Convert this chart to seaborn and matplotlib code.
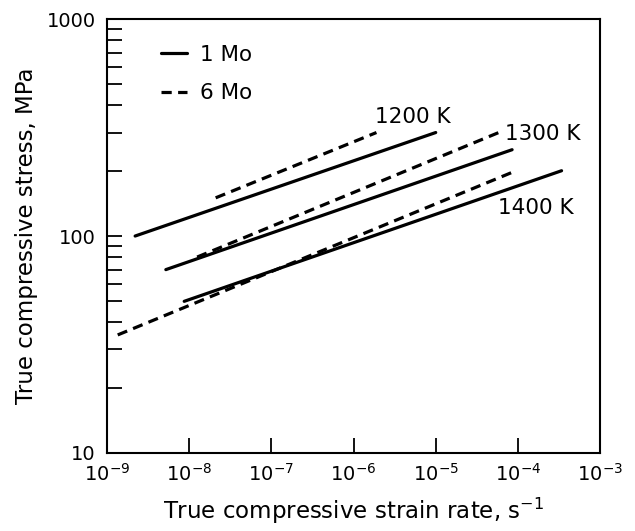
import matplotlib
matplotlib.use("Agg")
import matplotlib.pyplot as plt
import seaborn as sns
import pandas as pd
import numpy as np
from matplotlib.lines import Line2D
from matplotlib.ticker import LogLocator, NullFormatter, FixedLocator, FixedFormatter

# Data (line endpoints)
temps = ["1200 K", "1300 K", "1400 K"]
mo1_rate_start = [2.2e-9, 5.2e-9, 8.7e-9]
mo1_rate_end = [1.0e-5, 8.5e-5, 3.4e-4]
mo1_stress_start = [100, 70, 50]
mo1_stress_end = [300, 250, 200]
mo6_rate_start = [2.1e-8, 1.25e-8, 1.35e-9]
mo6_rate_end = [1.9e-6, 6.5e-5, 9.5e-5]
mo6_stress_start = [150, 80, 35]
mo6_stress_end = [300, 305, 200]

rows = []
for i, t in enumerate(temps):
    rows.append(dict(rate=mo1_rate_start[i], stress=mo1_stress_start[i], alloy="1 Mo", temp=t, uid=f"1-{t}"))
    rows.append(dict(rate=mo1_rate_end[i], stress=mo1_stress_end[i], alloy="1 Mo", temp=t, uid=f"1-{t}"))
    rows.append(dict(rate=mo6_rate_start[i], stress=mo6_stress_start[i], alloy="6 Mo", temp=t, uid=f"6-{t}"))
    rows.append(dict(rate=mo6_rate_end[i], stress=mo6_stress_end[i], alloy="6 Mo", temp=t, uid=f"6-{t}"))
df = pd.DataFrame(rows)

sns.set_theme(style="white")
plt.rcParams['font.family'] = ['DejaVu Sans']
plt.rcParams['mathtext.fontset'] = 'dejavusans'
plt.rcParams['text.color'] = 'black'
plt.rcParams['axes.labelcolor'] = 'black'
plt.rcParams['xtick.color'] = 'black'
plt.rcParams['ytick.color'] = 'black'

FS_TICK = 14
FS_LAB = 16.5
FS_TXT = 15.5
LW = 2.3
DASH = (3.2, 2.0)

fig = plt.figure(figsize=(6.35, 5.31), dpi=100)
ax = fig.add_axes([0.1685, 0.147, 0.7765, 0.817])

sns.lineplot(data=df, x="rate", y="stress", style="alloy", units="uid",
             estimator=None, color="black", linewidth=LW,
             dashes={"1 Mo": "", "6 Mo": DASH}, sort=False, legend=False, ax=ax)

ax.set_xscale("log")
ax.set_yscale("log")
ax.set_xlim(1e-9, 1e-3)
ax.set_ylim(10, 1000)

for s in ax.spines.values():
    s.set_color("black")
    s.set_linewidth(1.5)

xt = [1e-9, 1e-8, 1e-7, 1e-6, 1e-5, 1e-4, 1e-3]
xl = [r"$\mathregular{10^{-9}}$", r"$\mathregular{10^{-8}}$", r"$\mathregular{10^{-7}}$",
      r"$\mathregular{10^{-6}}$", r"$\mathregular{10^{-5}}$", r"$\mathregular{10^{-4}}$",
      r"$\mathregular{10^{-3}}$"]
ax.xaxis.set_major_locator(FixedLocator(xt))
ax.xaxis.set_major_formatter(FixedFormatter(xl))
ax.xaxis.set_minor_locator(FixedLocator([]))
ax.yaxis.set_major_locator(FixedLocator([10, 100, 1000]))
ax.yaxis.set_major_formatter(FixedFormatter(["10", "100", "1000"]))
ax.yaxis.set_minor_locator(LogLocator(base=10, subs=np.arange(2, 10)))
ax.yaxis.set_minor_formatter(NullFormatter())

ax.tick_params(axis="x", which="major", direction="in", length=11, width=1.3,
               labelsize=FS_TICK, pad=7, bottom=True, top=False, color="black", labelcolor="black")
ax.tick_params(axis="y", which="major", direction="in", length=11, width=1.3,
               labelsize=FS_TICK, pad=8, left=True, right=False, color="black", labelcolor="black")
ax.tick_params(axis="y", which="minor", direction="in", length=11, width=1.3,
               left=True, right=False, color="black")

ax.set_xlabel(r"True compressive strain rate, s$^{\mathregular{-1}}$", fontsize=FS_LAB,
              labelpad=8, color="black")
ax.set_ylabel("True compressive stress, MPa", fontsize=FS_LAB, labelpad=6, color="black")

# temperature labels
ax.text(1.8e-6, 352, "1200 K", fontsize=FS_TXT, ha="left", va="center", color="black")
ax.text(7.0e-5, 296, "1300 K", fontsize=FS_TXT, ha="left", va="center", color="black")
ax.text(5.8e-5, 134, "1400 K", fontsize=FS_TXT, ha="left", va="center", color="black")

handles = [Line2D([], [], color="black", lw=LW, linestyle="-"),
           Line2D([], [], color="black", lw=LW, linestyle=(0, DASH))]
leg = ax.legend(handles, ["1 Mo", "6 Mo"], loc="upper left", bbox_to_anchor=(0.07, 0.985),
                frameon=False, fontsize=FS_TXT, handlelength=1.2, handletextpad=0.6,
                labelspacing=0.85)
for t in leg.get_texts():
    t.set_color("black")

fig.savefig("out.png", dpi=100)
